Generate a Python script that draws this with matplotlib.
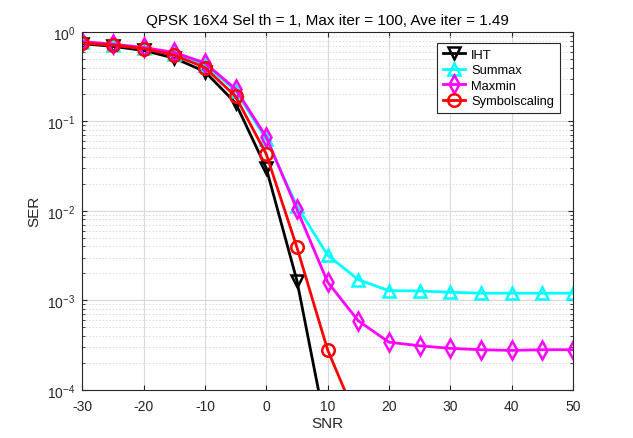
import numpy as np
import matplotlib.pyplot as plt
from matplotlib.ticker import LogLocator, NullFormatter

plt.rcParams['font.family'] = ['Liberation Sans', 'DejaVu Sans']
plt.rcParams['axes.unicode_minus'] = False

# SNR 轴
snr = [-30, -25, -20, -15, -10, -5, 0, 5, 10, 15, 20, 25, 30, 35, 40, 45, 50]
snr_iht = [-30, -25, -20, -15, -10, -5, 0, 5, 10]
snr_sym = [-30, -25, -20, -15, -10, -5, 0, 5, 10, 15]

# 各算法 SER
ser_iht = [0.74, 0.69, 0.62, 0.51, 0.36, 0.16, 0.030, 0.00166, 3.0e-5]
ser_summax = [0.77, 0.72, 0.66, 0.57, 0.43, 0.22, 0.063, 0.0113, 0.0032,
              0.0017, 0.00128, 0.00127, 0.00123, 0.0012, 0.0012, 0.0012, 0.0012]
ser_maxmin = [0.78, 0.73, 0.67, 0.59, 0.45, 0.23, 0.067, 0.0104, 0.0016,
              0.00059, 0.00034, 0.00031, 0.00029, 0.00028, 0.000275, 0.00028, 0.00028]
ser_sym = [0.75, 0.71, 0.65, 0.55, 0.40, 0.19, 0.043, 0.0039, 0.00028, 4.3e-5]

fig, ax = plt.subplots(figsize=(6.33, 4.39), dpi=100)
fig.subplots_adjust(left=0.13, right=0.905, bottom=0.11, top=0.925)

kw = dict(linewidth=2, markersize=9, markerfacecolor='none', markeredgewidth=1.8)
ax.semilogy(snr_iht, ser_iht, 'k-v', label='IHT', **kw)
ax.semilogy(snr, ser_summax, '-^', color='#00ffff', label='Summax', **kw)
ax.semilogy(snr, ser_maxmin, '-d', color='#ff00ff', label='Maxmin', **kw)
ax.semilogy(snr_sym, ser_sym, '-o', color='#ff0000', label='Symbolscaling', **kw)

ax.set_xlim(-30, 50)
ax.set_ylim(1e-4, 1)
ax.set_xticks(range(-30, 51, 10))
ax.yaxis.set_major_locator(LogLocator(base=10, numticks=10))
ax.yaxis.set_minor_locator(LogLocator(base=10, subs=np.arange(2, 10), numticks=20))
ax.yaxis.set_minor_formatter(NullFormatter())

ax.grid(True, which='major', color='#d9d9d9', linewidth=0.8)
ax.grid(True, which='minor', axis='y', color='#d9d9d9', linestyle=(0, (2, 2)), linewidth=0.6)
ax.set_axisbelow(True)
ax.tick_params(direction='in', which='both', top=True, right=True, labelsize=10, colors='#262626')
ax.tick_params(axis='x', which='major', pad=7)
ax.tick_params(axis='y', which='major', pad=5)
for sp in ax.spines.values():
    sp.set_color('#262626')
    sp.set_linewidth(0.8)

ax.set_xlabel('SNR', fontsize=11, color='#262626', labelpad=2)
ax.set_ylabel('SER', fontsize=11, color='#262626')
ax.set_title('QPSK 16X4 Sel th = 1, Max iter = 100, Ave iter = 1.49', fontsize=11, color='#000000')

leg = ax.legend(loc='upper right', bbox_to_anchor=(0.973, 0.969), fancybox=False, framealpha=1,
                edgecolor='#262626', fontsize=9.3, handlelength=1.7, borderpad=0.45,
                labelspacing=0.26, handletextpad=0.45, borderaxespad=0)
leg.get_frame().set_linewidth(0.8)

plt.savefig('out.png', dpi=100)
